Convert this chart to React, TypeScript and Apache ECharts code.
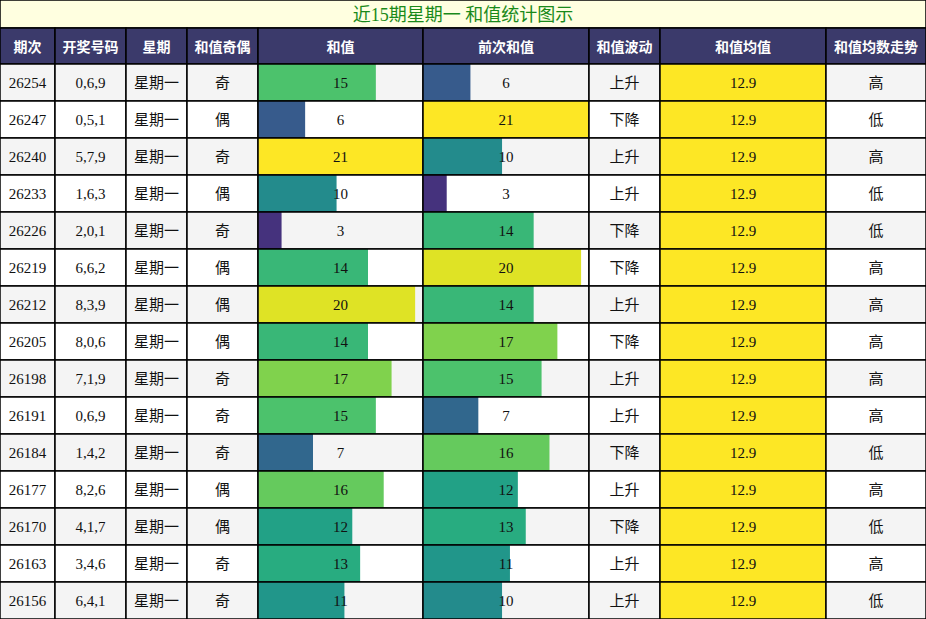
import React, { useEffect, useRef } from "react";
import * as echarts from "echarts";

const titleText = "近15期星期一 和值统计图示";
const headers = ["期次", "开奖号码", "星期", "和值奇偶", "和值", "前次和值", "和值波动", "和值均值", "和值均数走势"];
const periods = ["26254", "26247", "26240", "26233", "26226", "26219", "26212", "26205", "26198", "26191", "26184", "26177", "26170", "26163", "26156"];
const draws = ["0,6,9", "0,5,1", "5,7,9", "1,6,3", "2,0,1", "6,6,2", "8,3,9", "8,0,6", "7,1,9", "0,6,9", "1,4,2", "8,2,6", "4,1,7", "3,4,6", "6,4,1"];
const weekdays = ["星期一", "星期一", "星期一", "星期一", "星期一", "星期一", "星期一", "星期一", "星期一", "星期一", "星期一", "星期一", "星期一", "星期一", "星期一"];
const parity = ["奇", "偶", "奇", "偶", "奇", "偶", "偶", "偶", "奇", "奇", "奇", "偶", "偶", "奇", "奇"];
const sums = [15, 6, 21, 10, 3, 14, 20, 14, 17, 15, 7, 16, 12, 13, 11];
const prevSums = [6, 21, 10, 3, 14, 20, 14, 17, 15, 7, 16, 12, 13, 11, 10];
const trend = ["上升", "下降", "上升", "上升", "下降", "下降", "上升", "下降", "上升", "上升", "下降", "上升", "下降", "上升", "上升"];
const averages = [12.9, 12.9, 12.9, 12.9, 12.9, 12.9, 12.9, 12.9, 12.9, 12.9, 12.9, 12.9, 12.9, 12.9, 12.9];
const levels = ["高", "低", "高", "低", "低", "高", "高", "高", "高", "高", "低", "高", "低", "高", "低"];
const sumMax = 21;

const viridis = ["#440154", "#482475", "#414487", "#355f8d", "#2a788e", "#21918c", "#22a884", "#44bf70", "#7ad151", "#bddf26", "#fde725"];

const W = 926;
const H = 619;
const TITLE_H = 28;
const HEAD_H = 36;
const colEdges = [0, 55, 126, 187, 258, 423, 589, 660, 826, 926];
const FONT = "'Liberation Serif', 'Noto Sans CJK SC', serif";

type ColKind = "text" | "bar" | "avg";
const columns: { kind: ColKind; values: (string | number)[] }[] = [
  { kind: "text", values: periods },
  { kind: "text", values: draws },
  { kind: "text", values: weekdays },
  { kind: "text", values: parity },
  { kind: "bar", values: sums },
  { kind: "bar", values: prevSums },
  { kind: "text", values: trend },
  { kind: "avg", values: averages },
  { kind: "text", values: levels },
];

function makeRender(ci: number) {
  const col = columns[ci];
  return (params: any, api: any) => {
    const i = params.dataIndex;
    const cs = params.coordSys;
    const c = api.coord([0, i]);
    const h = api.size([0, 1])[1];
    const top = c[1] - h / 2;
    const left = cs.x;
    const w = cs.width;
    const bg = i % 2 === 0 ? "#f4f4f4" : "#ffffff";
    const children: any[] = [
      { type: "rect", shape: { x: left, y: top, width: w, height: h }, style: { fill: bg } },
    ];
    if (col.kind === "bar") {
      const e = api.coord([api.value(0), i]);
      children.push({
        type: "rect",
        shape: { x: left, y: top, width: e[0] - left, height: h },
        style: { fill: api.visual("color") },
      });
    }
    if (col.kind === "avg") {
      children.push({
        type: "rect",
        shape: { x: left, y: top, width: w, height: h },
        style: { fill: "#fde725" },
      });
    }
    children.push({
      type: "text",
      x: left + w / 2,
      y: top + h / 2,
      style: {
        text: String(col.values[i]),
        fill: "#111111",
        fontSize: 15,
        fontFamily: FONT,
        align: "center",
        verticalAlign: "middle",
      },
    });
    children.push({
      type: "rect",
      shape: { x: left, y: top, width: w, height: h },
      style: { fill: "none", stroke: "#000000", lineWidth: 1.5 },
    });
    return { type: "group", children };
  };
}

export default function App() {
  const ref = useRef<HTMLDivElement>(null);
  useEffect(() => {
    if (!ref.current) return;
    const chart = echarts.init(ref.current, undefined, { renderer: "svg" });
    const top = TITLE_H + HEAD_H;
    const grids = columns.map((_, ci) => ({
      left: colEdges[ci],
      width: colEdges[ci + 1] - colEdges[ci],
      top,
      height: H - top,
      show: false,
    }));
    const xAxes = columns.map((col, ci) => ({
      type: "value",
      gridIndex: ci,
      min: 0,
      max: col.kind === "bar" ? sumMax : 1,
      show: false,
    }));
    const yAxes = columns.map((_, ci) => ({
      type: "category",
      gridIndex: ci,
      data: periods,
      inverse: true,
      show: false,
    }));
    const series = columns.map((col, ci) => ({
      type: "custom",
      xAxisIndex: ci,
      yAxisIndex: ci,
      encode: { x: 0, y: 1 },
      renderItem: makeRender(ci),
      data: col.values.map((v, i) => [col.kind === "bar" ? (v as number) : 1, i]),
    }));

    const headerEls: any[] = [];
    headers.forEach((hd, ci) => {
      const x0 = colEdges[ci];
      const x1 = colEdges[ci + 1];
      headerEls.push({
        type: "rect",
        shape: { x: x0, y: TITLE_H, width: x1 - x0, height: HEAD_H },
        style: { fill: "#3b3a6b", stroke: "#000000", lineWidth: 1.5 },
      });
      headerEls.push({
        type: "text",
        x: (x0 + x1) / 2,
        y: TITLE_H + HEAD_H / 2,
        style: {
          text: hd,
          fill: "#ffffff",
          fontSize: 14,
          fontWeight: "bold",
          fontFamily: "'Noto Sans CJK SC', sans-serif",
          align: "center",
          verticalAlign: "middle",
        },
      });
    });

    chart.setOption({
      animation: false,
      grid: grids,
      xAxis: xAxes,
      yAxis: yAxes,
      visualMap: {
        show: false,
        type: "continuous",
        seriesIndex: [4, 5],
        dimension: 0,
        min: 0,
        max: sumMax,
        inRange: { color: viridis },
      },
      graphic: [
        {
          type: "rect",
          shape: { x: 0, y: 0, width: W, height: TITLE_H },
          style: { fill: "#ffffe0", stroke: "#000000", lineWidth: 1.5 },
        },
        {
          type: "text",
          x: W / 2,
          y: TITLE_H / 2 + 1,
          style: {
            text: titleText,
            fill: "#1a8a1a",
            fontSize: 18,
            fontFamily: FONT,
            align: "center",
            verticalAlign: "middle",
          },
        },
        ...headerEls,
      ],
      series,
    });
    return () => chart.dispose();
  }, []);
  return (
    <div
      ref={ref}
      style={{ position: "fixed", left: 0, top: 0, width: W, height: H, background: "#ffffff" }}
    />
  );
}
